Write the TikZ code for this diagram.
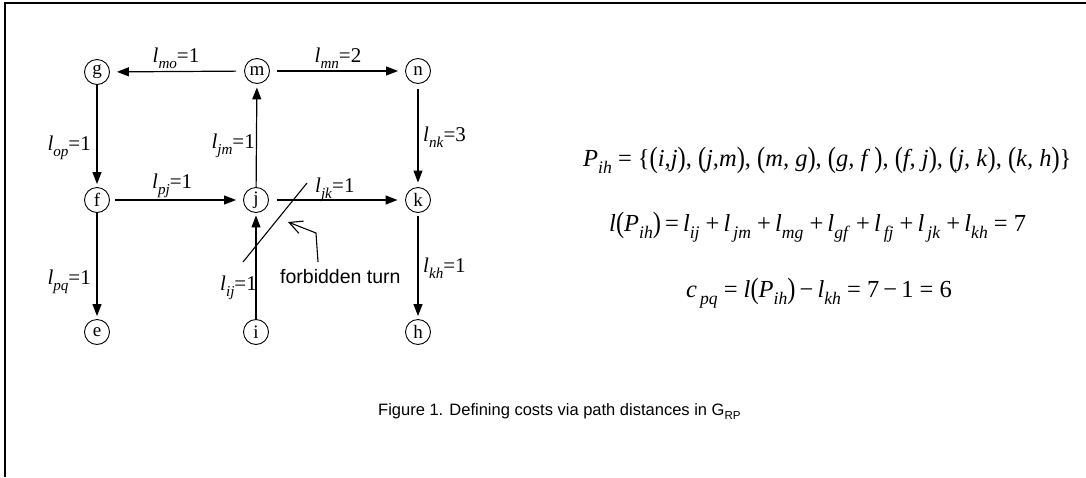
\documentclass[tikz,border=0pt]{standalone}
\usepackage{fontspec}
\setmainfont{Liberation Serif}
\newfontfamily\capfont{Liberation Sans}
\usetikzlibrary{arrows.meta}
\newcommand\isub[1]{\raisebox{-0.3em}{\scalebox{0.72}{\textit{#1}}}}
\newcommand\il{\textit{l}}
\newcommand\lp{\raisebox{-0.06em}{\scalebox{1}[1.2]{(}}}
\newcommand\rp{\raisebox{-0.06em}{\scalebox{1}[1.2]{)}}}
\newcommand\pl{\ +\,}
\begin{document}
\begin{tikzpicture}[x=1pt,y=-1pt,
  vtx/.style={circle,draw,line width=0.9pt,minimum size=25pt,inner sep=0pt,font=\fontsize{19}{19}\selectfont},
  edge/.style={line width=1.2pt,-{Triangle[length=12pt,width=9pt]}},
  lab/.style={font=\fontsize{21}{21}\selectfont,inner sep=0pt},
  eq/.style={font=\fontsize{24.5}{24.5}\selectfont,inner sep=0pt,anchor=base west},
  sans/.style={font=\fontsize{19.5}{19.5}\capfont,inner sep=0pt,anchor=base west},
  captxt/.style={font=\fontsize{16.5}{16.5}\capfont,inner sep=0pt,anchor=base west},
  thinln/.style={line width=1.1pt}]
\useasboundingbox (0,0) rectangle (1086,477);
\draw[line width=1.5pt] (5,477) -- (5,3) -- (1086,3);
% vertices
\node[vtx] (g) at (97,72) {g};
\node[vtx] (m) at (257,71) {m};
\node[vtx] (n) at (418,71) {n};
\node[vtx] (f) at (97,200) {f};
\node[vtx] (j) at (256,200) {j};
\node[vtx] (k) at (418,200) {k};
\node[vtx] (e) at (97,332) {e};
\node[vtx] (i) at (256,332) {i};
\node[vtx] (h) at (418,332) {h};
% edges
\draw[edge,shorten <=8pt,shorten >=7pt] (m) -- (g);
\draw[edge,shorten <=7pt,shorten >=7pt] (m) -- (n);
\draw[edge,shorten >=3pt] (g) -- (f);
\draw[edge,shorten >=3pt] (f) -- (e);
\draw[edge,shorten >=3.5pt] (j) -- (m);
\draw[edge,shorten <=5.5pt,shorten >=4.5pt] (n) -- (k);
\draw[edge,shorten <=5.5pt,shorten >=7pt] (f) -- (j);
\draw[edge,shorten <=8pt,shorten >=7.5pt] (j) -- (k);
\draw[edge,shorten >=2.5pt] (i) -- (j);
\draw[edge,shorten <=3.5pt,shorten >=3pt] (k) -- (h);
% edge labels
\node[lab,anchor=base] (lmo) at (176,62) {\il\isub{mo}=1};
\node[lab,anchor=base] (lmn) at (338,62) {\il\isub{mn}=2};
\node[lab,anchor=base east] (lop) at (91,150) {\il\isub{op}=1};
\node[lab,anchor=base east] (ljm) at (255,148) {\il\isub{jm}=1};
\node[lab,anchor=base west] (lnk) at (423,141) {\il\isub{nk}=3};
\node[lab,anchor=base west] (lpj) at (152,188) {\il\isub{pj}=1};
\node[lab,anchor=base west] (ljk) at (315,192) {\il\isub{jk}=1};
\node[lab,anchor=base east] (lpq) at (91,284) {\il\isub{pq}=1};
\node[lab,anchor=base east] (lij) at (257,290) {\il\isub{ij}=1};
\node[lab,anchor=base west] (lkh) at (423,272) {\il\isub{kh}=1};
% forbidden turn
\coordinate (fa) at (307,183);
\coordinate (fb) at (243,262);
\draw[thinln] (fa) -- (fb);
\node[sans] (ft) at (280,283) {forbidden turn};
\coordinate (p1) at (318,262);
\coordinate (p2) at (316,233);
\coordinate (p3) at (288,222);
\draw[thinln,-{Straight Barb[length=13pt,width=13pt,line width=1.1pt]}] (p1) -- (p2) -- (p3);
% equations
\node[eq] (eq1) at (583,166) {\textit{P}\isub{ih} = \{\lp\textit{i,j}\rp, \lp\textit{j,m}\rp, \lp\textit{m, g}\rp, \lp\textit{g, f}\,\rp, \lp\textit{f, j}\rp, \lp\textit{j, k}\rp, \lp\textit{k, h}\rp\}};
\node[eq] (eq2) at (609,231) {\il\lp\textit{P}\isub{ih}\rp\,=\,\il\isub{ij}\pl\il\isub{\,jm}\pl\il\isub{mg}\pl\il\isub{gf}\pl\il\isub{\,fj}\pl\il\isub{\,jk}\pl\il\isub{kh} = 7};
\node[eq] (eq3) at (686,297) {\textit{c}\isub{\,pq}\ = \il\lp\textit{P}\isub{ih}\rp\,\textminus\,\il\isub{kh}\ = 7\,\textminus\,1\ = 6};
% caption
\node[captxt] (caption) at (378,415) {Figure 1. Defining costs via path distances in G\raisebox{-0.25em}{\scalebox{0.7}{RP}}};
\end{tikzpicture}
\end{document}
